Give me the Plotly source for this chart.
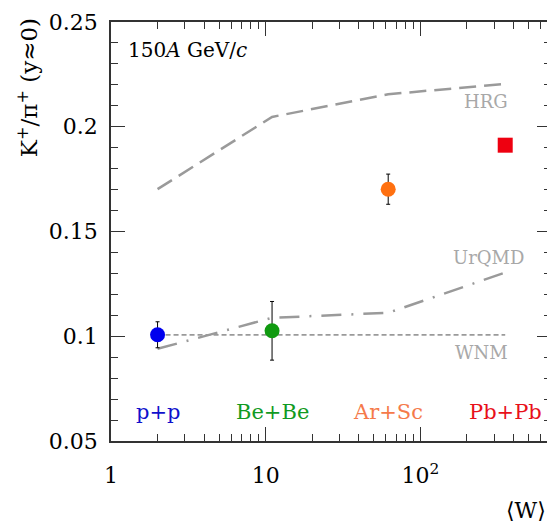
import math
import plotly.graph_objects as go

# ---- data ----
systems = ["p+p", "Be+Be", "Ar+Sc", "Pb+Pb"]
W = [2.0, 11.0, 62.0, 354.0]
ratio = [0.1007, 0.1026, 0.1702, 0.1912]
ratio_err = [0.0062, 0.014, 0.0072, 0.0]
colors_marker = ["#0000ee", "#109a10", "#ff7010", "#ee0010"]
colors_label = ["#1010cc", "#119a22", "#f57a4a", "#e8101a"]

hrg = [0.1702, 0.2047, 0.2155, 0.2205]
urqmd = [0.0940, 0.1088, 0.1112, 0.1304]
wnm = [0.1007, 0.1007, 0.1007, 0.1007]

FONT = "DejaVu Serif"
GRAY = "#9a9a9a"

fig = go.Figure()

fig.add_trace(go.Scatter(x=W, y=hrg, mode="lines",
                         line=dict(color=GRAY, width=2.5, dash="17px,8px"),
                         showlegend=False, hoverinfo="skip"))
fig.add_trace(go.Scatter(x=W, y=urqmd, mode="lines",
                         line=dict(color=GRAY, width=2.5, dash="20px,10px,2px,10px"),
                         showlegend=False, hoverinfo="skip"))
fig.add_trace(go.Scatter(x=W, y=wnm, mode="lines",
                         line=dict(color=GRAY, width=1.8, dash="5px,3px"),
                         showlegend=False, hoverinfo="skip"))

for i in range(len(systems)):
    sym = "square" if systems[i] == "Pb+Pb" else "circle"
    err = dict(type="data", array=[ratio_err[i]], color="black",
               thickness=1, width=2, visible=ratio_err[i] > 0)
    fig.add_trace(go.Scatter(x=[W[i]], y=[ratio[i]], mode="markers",
                             marker=dict(symbol=sym, size=15, color=colors_marker[i],
                                         line=dict(width=0)),
                             error_y=err, showlegend=False, name=systems[i]))

annotations = []
for i in range(len(systems)):
    annotations.append(dict(x=math.log10(W[i]), y=0.069, xref="x", yref="paper",
                            text=systems[i], showarrow=False,
                            font=dict(family=FONT, size=21, color=colors_label[i]),
                            xanchor="center", yanchor="middle"))

for txt, xp, yp in [("HRG", 0.853, 0.810), ("UrQMD", 0.857, 0.437), ("WNM", 0.842, 0.211)]:
    annotations.append(dict(x=xp, y=yp, xref="paper", yref="paper", text=txt,
                            showarrow=False, font=dict(family=FONT, size=18, color="#a8a8a8"),
                            xanchor="center", yanchor="middle"))

annotations.append(dict(x=0.034, y=0.934, xref="paper", yref="paper",
                        text="150<i>A</i> GeV/<i>c</i>", showarrow=False,
                        font=dict(family=FONT, size=20, color="black"),
                        xanchor="left", yanchor="middle"))
annotations.append(dict(x=-0.19, y=0.843, xref="paper", yref="paper",
                        text="K<sup>+</sup>/π<sup>+</sup> (y≈0)", textangle=-90,
                        showarrow=False, font=dict(family=FONT, size=23, color="black"),
                        xanchor="center", yanchor="middle"))
annotations.append(dict(x=0.993, y=-0.166, xref="paper", yref="paper",
                        text="⟨W⟩", showarrow=False,
                        font=dict(family=FONT, size=22, color="black"),
                        xanchor="right", yanchor="middle"))

fig.update_layout(
    width=547, height=518,
    margin=dict(l=103, r=2, t=11, b=85),
    plot_bgcolor="white", paper_bgcolor="white",
    font=dict(family=FONT, size=22, color="black"),
    annotations=annotations,
    xaxis=dict(type="log", range=[0, math.log10(700)],
               tickvals=[1, 10, 100], ticktext=["1", "10", "10<sup>2</sup>"],
               tickfont=dict(family=FONT, size=22),
               ticks="inside", ticklen=14, tickwidth=1, tickcolor="#333",
               showline=True, linecolor="#333", linewidth=1.5, mirror="allticks",
               showgrid=False, zeroline=False, ticklabelstandoff=14,
               ticklabeloverflow="allow",
               minor=dict(tickvals=[2, 3, 4, 5, 6, 7, 8, 9, 20, 30, 40, 50, 60, 70, 80, 90,
                                    200, 300, 400, 500, 600, 700],
                          ticks="inside", ticklen=7, tickcolor="#333", showgrid=False)),
    yaxis=dict(range=[0.05, 0.25], tickvals=[0.05, 0.1, 0.15, 0.2, 0.25],
               ticktext=["0.05", "0.1", "0.15", "0.2", "0.25"],
               tickfont=dict(family=FONT, size=22),
               ticks="inside", ticklen=14, tickwidth=1, tickcolor="#333",
               showline=True, linecolor="#333", linewidth=1.5, mirror="allticks",
               showgrid=False, zeroline=False, ticklabelstandoff=7,
               ticklabeloverflow="allow",
               minor=dict(dtick=0.01, ticks="inside", ticklen=7, tickcolor="#333",
                          showgrid=False)),
)

fig.write_html("out.html")
